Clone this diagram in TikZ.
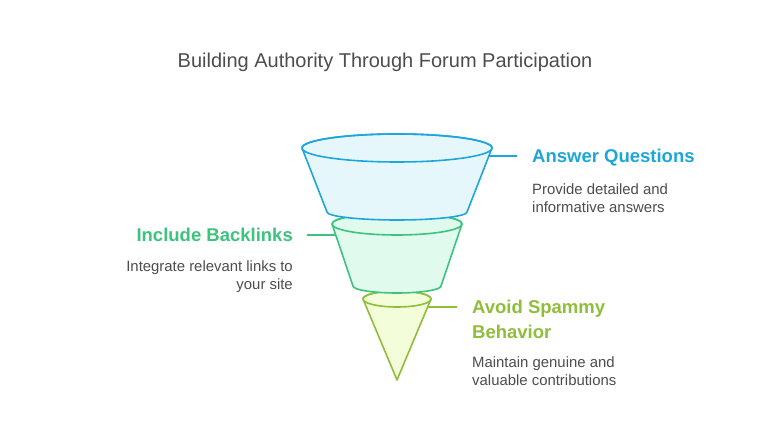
\documentclass[tikz,border=0pt]{standalone}
\usepackage{fontspec}
\setmainfont{Liberation Sans}
\usetikzlibrary{positioning}
\definecolor{FunnelBlue}{HTML}{1EA6DA}
\definecolor{FunnelGreen}{HTML}{3CC47E}
\definecolor{FunnelLime}{HTML}{8EBE3A}
\definecolor{FunnelBlueLight}{HTML}{E6F7FC}
\definecolor{FunnelGreenLight}{HTML}{E0FAEE}
\definecolor{FunnelLimeLight}{HTML}{F3FDDA}
\definecolor{TextGrey}{HTML}{4D4D4D}

\begin{document}
\begin{tikzpicture}[x=1pt, y=1pt,
    piece/.style={line width=1.6pt, line join=round},
    heading/.style={font=\fontsize{18.5}{25}\selectfont\bfseries, inner sep=0pt},
    blurb/.style={font=\fontsize{14.9}{18}\selectfont, text=TextGrey, inner sep=0pt}]
    \useasboundingbox[fill=white] (0,0) rectangle (770,446);

    % Title
    \node[font=\fontsize{20}{24}\selectfont, text=TextGrey, anchor=base] (title) at (385,378)
        {Building Authority Through Forum Participation};

    % Bottom piece (cone)
    \filldraw[piece, draw=FunnelLime, fill=FunnelLimeLight]
        (363,147) -- (397,66) -- (431,147)
        arc[start angle=0, end angle=180, x radius=34, y radius=8] -- cycle;
    \draw[piece, FunnelLime] (397,147) ellipse[x radius=34, y radius=8];

    % Middle piece
    \filldraw[piece, draw=FunnelGreen, fill=FunnelGreenLight]
        (332,222) -- (353,160)
        arc[start angle=180, end angle=360, x radius=44, y radius=7]
        -- (462,222)
        arc[start angle=0, end angle=180, x radius=65, y radius=11] -- cycle;
    \draw[piece, FunnelGreen] (397,222) ellipse[x radius=65, y radius=11];

    % Top piece
    \filldraw[piece, draw=FunnelBlue, fill=FunnelBlueLight]
        (302,298) -- (327,234)
        arc[start angle=180, end angle=360, x radius=70, y radius=8]
        -- (492,298)
        arc[start angle=0, end angle=180, x radius=95, y radius=14] -- cycle;
    \draw[piece, FunnelBlue] (397,298) ellipse[x radius=95, y radius=14];

    % Where the connectors leave the funnel
    \coordinate (blue-edge) at (489,290);
    \coordinate (green-edge) at (336,211);
    \coordinate (lime-edge) at (428,139);

    % Answer Questions
    \node[heading, text=FunnelBlue, anchor=base west] (answer) at (532,283) {Answer Questions};
    \node[blurb, anchor=north west, align=left] (answer-text) at (532,262)
        {Provide detailed and\\informative answers};
    \draw[piece, FunnelBlue, shorten >=15pt] (blue-edge) -- (blue-edge -| answer.west);

    % Include Backlinks
    \node[heading, text=FunnelGreen, anchor=base east] (backlinks) at (293,204) {Include Backlinks};
    \node[blurb, anchor=north east, align=right] (backlinks-text) at (293,185)
        {Integrate relevant links to\\your site};
    \draw[piece, FunnelGreen, shorten >=14pt] (green-edge) -- (green-edge -| backlinks.east);

    % Avoid Spammy Behavior
    \node[heading, text=FunnelLime, anchor=north west, align=left] (spammy) at (472,146)
        {Avoid Spammy\\Behavior};
    \node[blurb, anchor=north west, align=left] (spammy-text) at (472,89)
        {Maintain genuine and\\valuable contributions};
    \draw[piece, FunnelLime, shorten >=15pt] (lime-edge) -- (lime-edge -| spammy.west);
\end{tikzpicture}
\end{document}
